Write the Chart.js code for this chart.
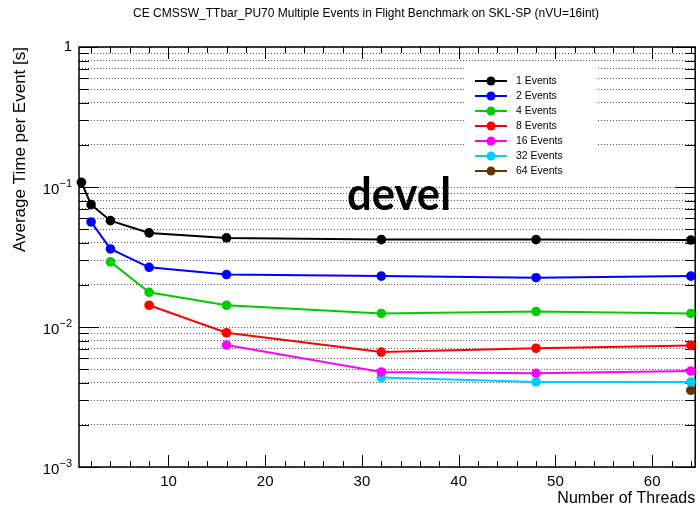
<!DOCTYPE html>
<html>
<head>
<meta charset="utf-8">
<script src="https://cdn.jsdelivr.net/npm/chart.js@4.4.0/dist/chart.umd.min.js"></script>
<style>
  html, body { margin: 0; padding: 0; background: #fff; }
</style>
</head>
<body>
<canvas id="perfChart" width="700" height="509"></canvas>
<script>
// number of threads (x axis)
const threads = [1, 2, 4, 8, 16, 32, 48, 64];

// average time per event [s]; null = not run for that thread count
const events1  = [0.108, 0.0748, 0.0575, 0.0470, 0.0433, 0.0421, 0.0421, 0.0418];
const events2  = [null, 0.0563, 0.0361, 0.0267, 0.0237, 0.0231, 0.0225, 0.0231];
const events4  = [null, null, 0.0292, 0.0177, 0.0143, 0.0125, 0.0129, 0.0125];
const events8  = [null, null, null, 0.0143, 0.0091, 0.00662, 0.00705, 0.00739];
const events16 = [null, null, null, null, 0.00743, 0.00477, 0.00467, 0.00485];
const events32 = [null, null, null, null, null, 0.00435, 0.00405, 0.00405];
const events64 = [null, null, null, null, null, null, null, 0.00353];

const seriesValues = [events1, events2, events4, events8, events16, events32, events64];
const seriesLabels = ['1 Events', '2 Events', '4 Events', '8 Events', '16 Events', '32 Events', '64 Events'];
const seriesColors = ['#000000', '#0000ff', '#00cc00', '#ff0000', '#ff00ff', '#00ccff', '#663300'];

const xTickValues = [10, 20, 30, 40, 50, 60];
const yDecades = [0.001, 0.01, 0.1, 1];
// decade labels drawn as base + raised exponent, like ROOT does
const yDecadeBase = ['10', '10', '10', '1'];
const yDecadeExp = ['\u22123', '\u22122', '\u22121', ''];

const chartTitle = 'CE CMSSW_TTbar_PU70 Multiple Events in Flight Benchmark on SKL-SP (nVU=16int)';
const FONT = "'Liberation Sans', Arial, sans-serif";

// every 1..9 x 10^k inside the y range -> dotted grid lines
const yGridValues = [];
yDecades.forEach((d, i) => {
    if (i === yDecades.length - 1) { yGridValues.push(d); return; }
    for (let m = 1; m <= 9; m++) yGridValues.push(d * m);
});

function decadeIndex(v) {
    for (let i = 0; i < yDecades.length; i++) {
        if (Math.abs(v - yDecades[i]) / yDecades[i] < 1e-6) return i;
    }
    return -1;
}

const datasets = seriesValues.map((vals, i) => ({
    label: seriesLabels[i],
    data: threads.map((t, j) => ({ x: t, y: vals[j] })).filter(p => p.y !== null),
    borderColor: seriesColors[i],
    backgroundColor: seriesColors[i],
    borderWidth: 2,
    pointRadius: 4.8,
    pointBorderWidth: 0,
    pointHoverRadius: 4.8,
    tension: 0,
    clip: false
}));

// frame, inside ticks, y labels, legend box, title and the "devel" tag
const rootStyle = {
    id: 'rootStyle',
    beforeDatasetsDraw(chart) {
        const ctx = chart.ctx;
        const a = chart.chartArea;
        const xs = chart.scales.x, ys = chart.scales.y;
        ctx.save();
        ctx.strokeStyle = '#000';
        ctx.lineWidth = 1;
        ctx.beginPath();
        for (let v = 2; v <= 64; v += 2) {
            const px = Math.round(xs.getPixelForValue(v)) + 0.5;
            const len = v % 10 === 0 ? 12 : 6;
            ctx.moveTo(px, a.bottom); ctx.lineTo(px, a.bottom - len);
            ctx.moveTo(px, a.top); ctx.lineTo(px, a.top + len);
        }
        yGridValues.forEach(v => {
            const py = Math.round(ys.getPixelForValue(v)) + 0.5;
            const len = decadeIndex(v) >= 0 ? 20 : 10;
            ctx.moveTo(a.left, py); ctx.lineTo(a.left + len, py);
            ctx.moveTo(a.right, py); ctx.lineTo(a.right - len, py);
        });
        ctx.stroke();
        ctx.lineWidth = 1.5;
        ctx.strokeRect(a.left, a.top, a.right - a.left, a.bottom - a.top);

        // y decade labels
        ctx.fillStyle = '#000';
        ctx.textBaseline = 'middle';
        ctx.textAlign = 'right';
        yDecades.forEach((d, i) => {
            const py = ys.getPixelForValue(d);
            const right = a.left - 7;
            if (yDecadeExp[i]) {
                ctx.font = '11px ' + FONT;
                const ew = ctx.measureText(yDecadeExp[i]).width;
                ctx.fillText(yDecadeExp[i], right, py - 3);
                ctx.font = '15px ' + FONT;
                ctx.fillText(yDecadeBase[i], right - ew, py + 3);
            } else {
                ctx.font = '15px ' + FONT;
                ctx.fillText(yDecadeBase[i], right, py);
            }
        });
        ctx.restore();
    },
    afterDatasetsDraw(chart) {
        const ctx = chart.ctx;
        ctx.save();
        ctx.fillStyle = '#000';
        ctx.font = "bold 46px Lato, 'Open Sans', sans-serif";
        ctx.textAlign = 'left';
        ctx.textBaseline = 'alphabetic';
        ctx.fillText('devel', 347, 210, 104);
        ctx.restore();
    },
    afterDraw(chart) {
        const ctx = chart.ctx;
        ctx.save();
        // title
        ctx.fillStyle = '#000';
        ctx.font = '12px ' + FONT;
        ctx.textAlign = 'center';
        ctx.textBaseline = 'middle';
        ctx.fillText(chartTitle, 366, 14, 478);
        // legend
        ctx.fillStyle = '#fff';
        ctx.fillRect(465, 68, 133, 117);
        ctx.font = '10.5px ' + FONT;
        ctx.textAlign = 'left';
        chart.data.datasets.forEach((ds, i) => {
            const y = 81 + i * 15;
            ctx.strokeStyle = ds.borderColor;
            ctx.lineWidth = 2;
            ctx.beginPath();
            ctx.moveTo(475, y); ctx.lineTo(507, y);
            ctx.stroke();
            ctx.fillStyle = ds.borderColor;
            ctx.beginPath();
            ctx.arc(491, y, 4.5, 0, Math.PI * 2);
            ctx.fill();
            ctx.fillStyle = '#000';
            ctx.fillText(ds.label, 516, y + 0.5);
        });
        ctx.restore();
    }
};

new Chart(document.getElementById('perfChart').getContext('2d'), {
    type: 'line',
    data: { datasets: datasets },
    options: {
        responsive: false,
        animation: false,
        layout: { padding: { top: 47, right: 2, bottom: 0, left: 0 } },
        plugins: {
            legend: { display: false },
            title: { display: false },
            tooltip: { enabled: false }
        },
        scales: {
            x: {
                type: 'linear',
                min: 0.75,
                max: 64.45,
                afterBuildTicks: scale => { scale.ticks = xTickValues.map(v => ({ value: v })); },
                afterFit: scale => { scale.height = 42; },
                grid: { display: false },
                border: { display: false },
                ticks: {
                    color: '#000',
                    padding: -2,
                    autoSkip: false,
                    maxRotation: 0,
                    font: { family: FONT, size: 15 }
                },
                title: {
                    display: true,
                    text: 'Number of Threads',
                    align: 'end',
                    color: '#000',
                    font: { family: FONT, size: 16 },
                    padding: { top: 0, bottom: 1 }
                }
            },
            y: {
                type: 'logarithmic',
                min: 0.001,
                max: 1,
                afterBuildTicks: scale => { scale.ticks = yGridValues.map(v => ({ value: v })); },
                afterFit: scale => { scale.width = 79; },
                grid: { color: '#555', lineWidth: 1, drawTicks: false },
                border: { display: false, dash: [1, 2] },
                ticks: { display: false },
                title: {
                    display: true,
                    text: 'Average Time per Event [s]',
                    align: 'end',
                    color: '#000',
                    font: { family: FONT, size: 17 },
                    padding: { top: 10, bottom: 0 }
                }
            }
        }
    },
    plugins: [rootStyle]
});
</script>
</body>
</html>
